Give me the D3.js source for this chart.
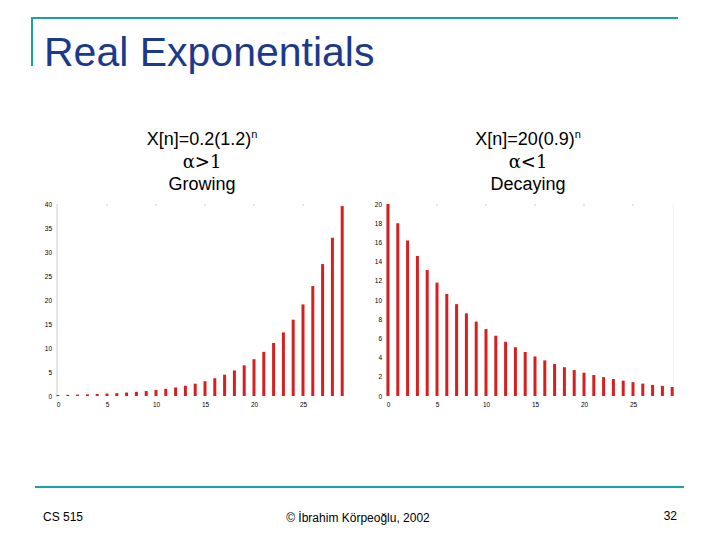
<!DOCTYPE html><html><head><meta charset="utf-8"><script src="https://cdn.jsdelivr.net/npm/d3@7"></script>
<style>body{margin:0;background:#fff}svg{display:block}</style></head><body><script>
const nValues=d3.range(0,30);
const growingValues=[0.20,0.24,0.29,0.35,0.41,0.50,0.60,0.72,0.86,1.03,1.24,1.49,1.78,2.14,2.57,3.08,3.70,4.44,5.32,6.39,7.67,9.20,11.04,13.25,15.90,19.08,22.90,27.48,32.97,39.57];
const decayingValues=[20,18,16.2,14.58,13.12,11.81,10.63,9.57,8.61,7.75,6.97,6.28,5.65,5.08,4.58,4.12,3.71,3.34,3.00,2.70,2.43,2.19,1.97,1.77,1.60,1.44,1.29,1.16,1.05,0.94];
const xTicks=[0,5,10,15,20,25];
const growingYTicks=[0,5,10,15,20,25,30,35,40];
const decayingYTicks=[0,2,4,6,8,10,12,14,16,18,20];

const svg=d3.select("body").append("svg").attr("width",720).attr("height",540).style("font-family","Arial, 'Liberation Sans', sans-serif");
const teal="#1aa3a3";
svg.append("line").attr("x1",32).attr("y1",18).attr("x2",678).attr("y2",18).attr("stroke",teal).attr("stroke-width",2);
svg.append("line").attr("x1",32).attr("y1",17).attr("x2",32).attr("y2",66).attr("stroke",teal).attr("stroke-width",2);
svg.append("text").attr("x",44).attr("y",66).attr("font-size",41).attr("fill","#1c3a8c").text("Real Exponentials");
svg.append("line").attr("x1",35).attr("y1",487).attr("x2",684).attr("y2",487).attr("stroke",teal).attr("stroke-width",2);
svg.append("text").attr("x",43).attr("y",521).attr("font-size",12).text("CS 515");
svg.append("text").attr("x",358).attr("y",522).attr("font-size",12).attr("text-anchor","middle").text("© İbrahim Körpeoğlu, 2002");
svg.append("text").attr("x",677).attr("y",520).attr("font-size",12).attr("text-anchor","end").text("32");

function title(cx,lines){
  const t=svg.append("g").attr("font-size",18).attr("text-anchor","middle");
  const a=t.append("text").attr("x",cx).attr("y",145);
  a.append("tspan").text(lines[0]);
  a.append("tspan").attr("font-size",11).attr("dy",-7).text("n");
  t.append("text").attr("x",cx).attr("y",168).attr("font-family","'DejaVu Serif', serif").text(lines[1]);
  t.append("text").attr("x",cx).attr("y",190).text(lines[2]);
}
title(202,["X[n]=0.2(1.2)","α>1","Growing"]);
title(528,["X[n]=20(0.9)","α<1","Decaying"]);

function chart(x0,ymax,vals,yt,rightAxis){
  const x=d3.scaleLinear().domain([0,25]).range([x0,x0+245]);
  const y=d3.scaleLinear().domain([0,ymax]).range([396,204]);
  const g=svg.append("g");
  g.append("line").attr("x1",x0-1).attr("x2",x0-1).attr("y1",204).attr("y2",397).attr("stroke","#ccc");
  if(rightAxis){g.append("line").attr("x1",x(29.1)).attr("x2",x(29.1)).attr("y1",204).attr("y2",397).attr("stroke","#eee");}
  g.append("g").attr("transform",`translate(${x0-1},0)`).call(d3.axisLeft(y).tickValues(yt).tickSize(0).tickPadding(5))
   .call(s=>s.select(".domain").remove()).selectAll("text").attr("font-size",6.5).attr("font-family","Arial, sans-serif");
  g.append("g").attr("transform","translate(0,398)").call(d3.axisBottom(x).tickValues(xTicks).tickSize(0).tickPadding(4))
   .call(s=>s.select(".domain").remove()).selectAll("text").attr("font-size",6.5).attr("font-family","Arial, sans-serif");
  g.selectAll(".tt").data(xTicks.slice(1)).enter().append("line").attr("x1",d=>x(d)).attr("x2",d=>x(d)).attr("y1",204).attr("y2",206).attr("stroke","#ccc");
  g.selectAll(".bar").data(nValues).enter().append("rect")
   .attr("x",d=>x(d)-1.5).attr("width",3).attr("y",d=>y(vals[d])).attr("height",d=>396-y(vals[d])).attr("fill","#d61f1f");
}
chart(58,40,growingValues,growingYTicks,false);
chart(388,20,decayingValues,decayingYTicks,true);
</script></body></html>
